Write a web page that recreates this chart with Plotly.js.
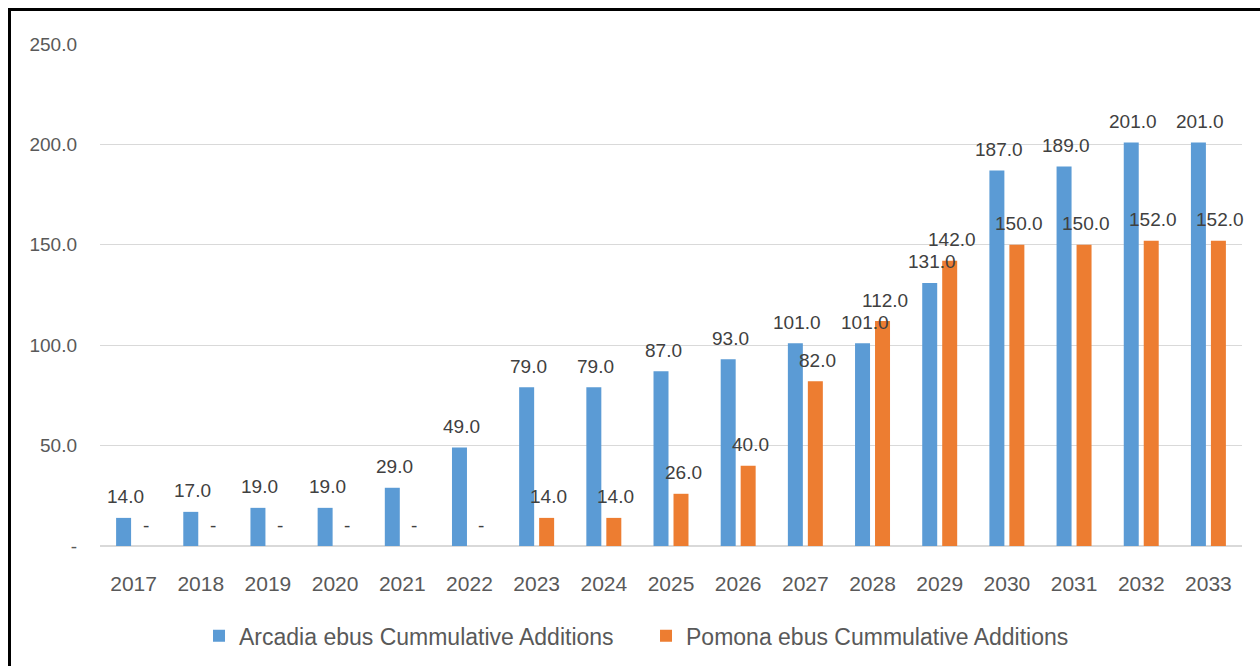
<!DOCTYPE html>
<html>
<head>
<meta charset="utf-8">
<script src="https://cdn.plot.ly/plotly-3.0.1.min.js"></script>
<style>
  html, body { margin: 0; padding: 0; background: #fff; }
  #wrap { position: relative; width: 1260px; height: 666px; overflow: hidden; }
  #chart { width: 1260px; height: 666px; }
  #frame { position: absolute; left: 8px; top: 8px; width: 1300px; height: 700px;
           border-top: 3px solid #000; border-left: 3px solid #000; pointer-events: none; }
</style>
</head>
<body>
<div id="wrap">
  <div id="chart"></div>
  <div id="frame"></div>
</div>
<script>
const years = ['2017','2018','2019','2020','2021','2022','2023','2024','2025','2026','2027','2028','2029','2030','2031','2032','2033'];
const arcadia = [14, 17, 19, 19, 29, 49, 79, 79, 87, 93, 101, 101, 131, 187, 189, 201, 201];
const pomona  = [0, 0, 0, 0, 0, 0, 14, 14, 26, 40, 82, 112, 142, 150, 150, 152, 152];
const seriesNames = ['Arcadia ebus Cummulative Additions', 'Pomona ebus Cummulative Additions'];
const yTickVals = [0, 50, 100, 150, 200, 250];
const yTickText = ['-', '50.0', '100.0', '150.0', '200.0', '250.0'];

const blue = '#5b9bd5', orange = '#ed7d31';
const fmt = v => v === 0 ? '-' : v.toFixed(1);

const traces = [
  { type: 'bar', name: seriesNames[0], x: years, y: arcadia, marker: { color: blue }, hoverinfo: 'x+y' },
  { type: 'bar', name: seriesNames[1], x: years, y: pomona,  marker: { color: orange }, hoverinfo: 'x+y' }
];

const labelFont = { family: 'Liberation Sans, Arial, sans-serif', size: 19, color: '#404040' };
const annotations = [];
[[arcadia, -8], [pomona, 12]].forEach(([vals, dx]) => {
  vals.forEach((v, i) => {
    annotations.push({
      x: i, y: v, xref: 'x', yref: 'y', text: fmt(v), showarrow: false,
      xanchor: 'center', yanchor: 'middle', xshift: dx, yshift: 21, font: labelFont
    });
  });
});

const layout = {
  width: 1260, height: 666,
  margin: { l: 100, r: 18, t: 44, b: 120, autoexpand: false },
  paper_bgcolor: '#fff', plot_bgcolor: '#fff',
  barmode: 'group', bargap: 0.405, bargroupgap: 0.25,
  showlegend: true,
  legend: {
    orientation: 'h', x: 0.0867, xanchor: 'left', y: -0.179, yanchor: 'middle',
    font: { family: 'Liberation Sans, Arial, sans-serif', size: 23, color: '#595959' },
    entrywidth: 402, entrywidthmode: 'pixels', bgcolor: 'rgba(0,0,0,0)'
  },
  xaxis: {
    type: 'category', range: [-0.5, years.length - 0.5], autorange: false,
    showgrid: false, zeroline: false,
    showline: false, ticks: '', ticklabelstandoff: 23,
    tickfont: { family: 'Liberation Sans, Arial, sans-serif', size: 21, color: '#595959' }
  },
  yaxis: {
    range: [0, 250], autorange: false, tickvals: yTickVals, ticktext: yTickText,
    showgrid: true, gridcolor: '#d9d9d9', gridwidth: 1,
    zeroline: true, zerolinecolor: '#d9d9d9', zerolinewidth: 1.5,
    showline: false, ticks: '', ticklabelstandoff: 22,
    tickfont: { family: 'Liberation Sans, Arial, sans-serif', size: 19, color: '#595959' }
  },
  annotations: annotations
};

Plotly.newPlot('chart', traces, layout, { displayModeBar: false, staticPlot: true });
</script>
</body>
</html>
